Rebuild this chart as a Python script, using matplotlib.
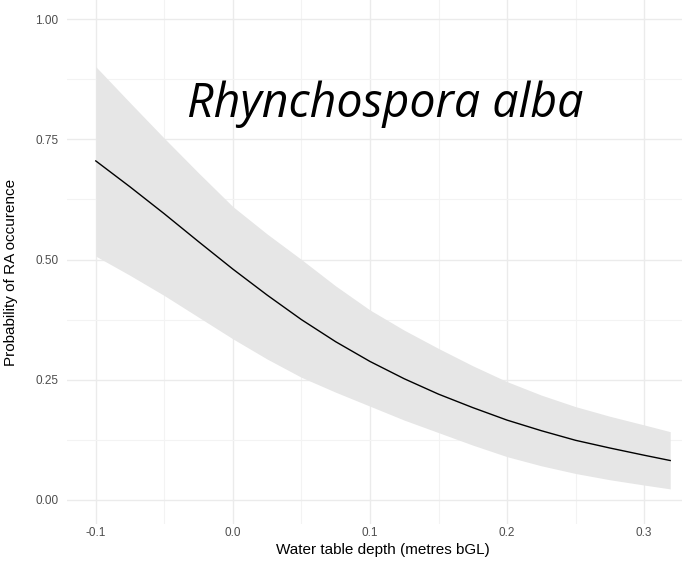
import numpy as np
import matplotlib.pyplot as plt

# values
depth = [-0.1, -0.075, -0.05, -0.025, 0.0, 0.025, 0.05, 0.075, 0.1, 0.125,
         0.15, 0.175, 0.2, 0.225, 0.25, 0.275, 0.3, 0.319]
fit = [0.705, 0.651, 0.595, 0.537, 0.480, 0.426, 0.375, 0.329, 0.288, 0.252,
       0.220, 0.192, 0.166, 0.144, 0.124, 0.108, 0.093, 0.082]
upper = [0.901, 0.826, 0.752, 0.680, 0.610, 0.553, 0.500, 0.445, 0.395, 0.353,
         0.315, 0.279, 0.246, 0.218, 0.194, 0.174, 0.156, 0.142]
lower = [0.507, 0.467, 0.425, 0.380, 0.335, 0.293, 0.255, 0.224, 0.195, 0.166,
         0.140, 0.114, 0.090, 0.071, 0.055, 0.042, 0.031, 0.023]

x_ticks = [-0.1, 0.0, 0.1, 0.2, 0.3]
x_tick_labels = ['-0.1', '0.0', '0.1', '0.2', '0.3']
y_ticks = [0.0, 0.25, 0.5, 0.75, 1.0]
y_tick_labels = ['0.00', '0.25', '0.50', '0.75', '1.00']

plt.rcParams['font.family'] = ['Liberation Sans', 'DejaVu Sans']

fig = plt.figure(figsize=(6.82, 5.62), dpi=100)
ax = fig.add_axes([67 / 682, 1 - 524 / 562, 632 / 682, 529 / 562])

ax.fill_between(depth, lower, upper, color='#e6e6e6', lw=0, zorder=2)
ax.plot(depth, fit, color='black', lw=1.0, zorder=3)

ax.set_xlim(-0.121, 0.340)
ax.set_ylim(-0.05, 1.05)
ax.set_xticks(x_ticks)
ax.set_xticklabels(x_tick_labels)
ax.set_yticks(y_ticks)
ax.set_yticklabels(y_tick_labels)
ax.set_xticks([-0.05, 0.05, 0.15, 0.25], minor=True)
ax.set_yticks([0.125, 0.375, 0.625, 0.875], minor=True)

ax.grid(True, which='major', color='#ebebeb', lw=1.0, zorder=0)
ax.grid(True, which='minor', color='#f3f3f3', lw=0.8, zorder=0)
ax.set_axisbelow(True)
for s in ax.spines.values():
    s.set_visible(False)
ax.tick_params(which='both', length=0)
ax.tick_params(axis='x', pad=2, labelsize=8.5, labelcolor='#4d4d4d')
ax.tick_params(axis='y', pad=6, labelsize=8.5, labelcolor='#4d4d4d')

fig.text(383 / 682, 1 - 550 / 562, 'Water table depth (metres bGL)',
         ha='center', va='center', fontsize=11)
fig.text(11 / 682, 1 - 272 / 562, 'Probability of RA occurence',
         ha='center', va='center', rotation=90, fontsize=11)

fig.text(385 / 682, 1 - 117 / 562, 'Rhynchospora alba',
         ha='center', va='baseline', fontsize=33.5, style='italic',
         family=['Open Sans', 'DejaVu Sans'])

fig.savefig('out.png', dpi=100)
